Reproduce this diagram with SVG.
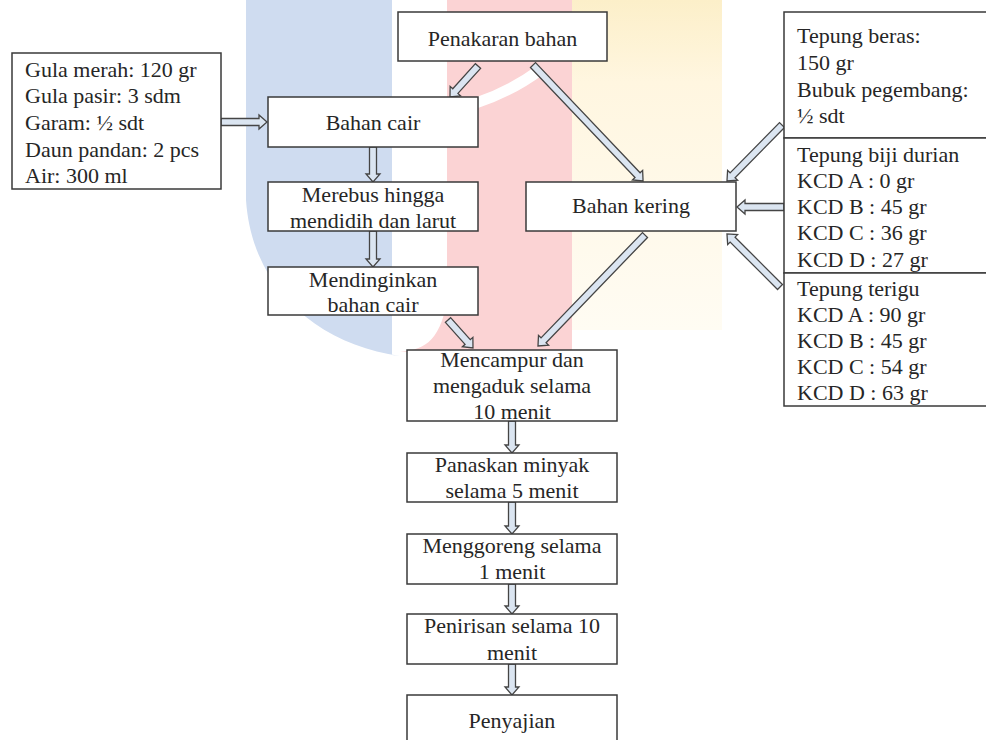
<svg xmlns="http://www.w3.org/2000/svg" width="986" height="740" viewBox="0 0 986 740">
<style>
.box{fill:#fff;stroke:#3a3a3a;stroke-width:1.5}
.t{font-family:"Liberation Serif","Times New Roman",serif;font-size:22px;fill:#262626}
.c{text-anchor:middle}
.ar{fill:#dbe5f1;stroke:#454545;stroke-width:1.3;stroke-linejoin:miter}
</style>
<defs>
<linearGradient id="yel" x1="0" y1="0" x2="0" y2="1">
<stop offset="0" stop-color="#fcefc9"/>
<stop offset="0.25" stop-color="#fff6e0"/>
<stop offset="1" stop-color="#fffcf3"/>
</linearGradient>
</defs>
<rect width="986" height="740" fill="#fff"/>
<g id="watermark">
<path d="M246,0 H392 V355 L400,356 C320,345 252,290 246,200 Z" fill="#cfdcf0"/>
<path d="M447,0 H572 V352 H400 C420,350 440,345 447,300 Z" fill="#fbd3d4"/>
<path d="M440,112 C475,106 510,92 540,70" fill="none" stroke="#fff" stroke-width="11"/>
<path d="M572,0 H722 V330 H572 Z" fill="url(#yel)"/>
</g>
<g id="connectors">
<polygon class="ar" points="0,-3.5 38,-3.5 38,-7 46,0 38,7 38,3.5 0,3.5" transform="translate(221,122)"/>
<polygon class="ar" points="0,-3.5 33.8,-3.5 33.8,-7 41.8,0 33.8,7 33.8,3.5 0,3.5" transform="translate(478,66) rotate(132.1)"/>
<polygon class="ar" points="0,-3.5 151.9,-3.5 151.9,-7 159.9,0 151.9,7 151.9,3.5 0,3.5" transform="translate(533,65) rotate(46.5)"/>
<polygon class="ar" points="0,-3.5 27,-3.5 27,-7 35,0 27,7 27,3.5 0,3.5" transform="translate(373,147) rotate(90)"/>
<polygon class="ar" points="0,-3.5 28,-3.5 28,-7 36,0 28,7 28,3.5 0,3.5" transform="translate(373,231) rotate(90)"/>
<polygon class="ar" points="0,-3.5 29.5,-3.5 29.5,-7 37.5,0 29.5,7 29.5,3.5 0,3.5" transform="translate(448,320) rotate(48.2)"/>
<polygon class="ar" points="0,-3.5 146.2,-3.5 146.2,-7 154.2,0 146.2,7 146.2,3.5 0,3.5" transform="translate(645,235) rotate(133.95)"/>
<polygon class="ar" points="0,-3.5 70.5,-3.5 70.5,-7 78.5,0 70.5,7 70.5,3.5 0,3.5" transform="translate(782,125) rotate(134.5)"/>
<polygon class="ar" points="0,-3.5 39,-3.5 39,-7 47,0 39,7 39,3.5 0,3.5" transform="translate(784,207) rotate(180)"/>
<polygon class="ar" points="0,-3.5 67,-3.5 67,-7 75,0 67,7 67,3.5 0,3.5" transform="translate(780,287) rotate(-135)"/>
<polygon class="ar" points="0,-3.5 24,-3.5 24,-7 32,0 24,7 24,3.5 0,3.5" transform="translate(512,421) rotate(90)"/>
<polygon class="ar" points="0,-3.5 24,-3.5 24,-7 32,0 24,7 24,3.5 0,3.5" transform="translate(512,502) rotate(90)"/>
<polygon class="ar" points="0,-3.5 22,-3.5 22,-7 30,0 22,7 22,3.5 0,3.5" transform="translate(512,584) rotate(90)"/>
<polygon class="ar" points="0,-3.5 23,-3.5 23,-7 31,0 23,7 23,3.5 0,3.5" transform="translate(512,664) rotate(90)"/>
</g>
<g id="bahan-cair-list">
<rect class="box" x="12" y="53" width="209" height="136"/>
<text class="t" x="25" y="77">Gula merah: 120 gr</text>
<text class="t" x="25" y="103">Gula pasir: 3 sdm</text>
<text class="t" x="25" y="130">Garam: ½ sdt</text>
<text class="t" x="25" y="157">Daun pandan: 2 pcs</text>
<text class="t" x="25" y="183">Air: 300 ml</text>
</g>
<g id="penakaran">
<rect class="box" x="398" y="12" width="209" height="49"/>
<text class="t c" x="502.5" y="46">Penakaran bahan</text>
</g>
<g id="bahan-cair">
<rect class="box" x="268" y="97" width="210" height="50"/>
<text class="t c" x="373" y="130">Bahan cair</text>
</g>
<g id="merebus">
<rect class="box" x="268" y="182" width="210" height="49"/>
<text class="t c" x="373" y="202">Merebus hingga</text>
<text class="t c" x="373" y="228">mendidih dan larut</text>
</g>
<g id="mendinginkan">
<rect class="box" x="268" y="267" width="210" height="48"/>
<text class="t c" x="373" y="287">Mendinginkan</text>
<text class="t c" x="373" y="312">bahan cair</text>
</g>
<g id="bahan-kering">
<rect class="box" x="526" y="182" width="210" height="49"/>
<text class="t c" x="631" y="213">Bahan kering</text>
</g>
<g id="bahan-kering-list">
<rect class="box" x="784" y="12" width="210" height="126"/>
<rect class="box" x="784" y="138" width="210" height="135"/>
<rect class="box" x="784" y="273" width="210" height="133"/>
<text class="t" x="797" y="43">Tepung beras:</text>
<text class="t" x="797" y="70">150 gr</text>
<text class="t" x="797" y="97">Bubuk pegembang:</text>
<text class="t" x="797" y="123">½ sdt</text>
<text class="t" x="797" y="162">Tepung biji durian</text>
<text class="t" x="797" y="188">KCD A : 0 gr</text>
<text class="t" x="797" y="214">KCD B : 45 gr</text>
<text class="t" x="797" y="240">KCD C : 36 gr</text>
<text class="t" x="797" y="267">KCD D : 27 gr</text>
<text class="t" x="797" y="296">Tepung terigu</text>
<text class="t" x="797" y="322">KCD A : 90 gr</text>
<text class="t" x="797" y="348">KCD B : 45 gr</text>
<text class="t" x="797" y="374">KCD C : 54 gr</text>
<text class="t" x="797" y="400">KCD D : 63 gr</text>
</g>
<g id="mencampur">
<rect class="box" x="407" y="350" width="210" height="71"/>
<text class="t c" x="512" y="367">Mencampur dan</text>
<text class="t c" x="512" y="393">mengaduk selama</text>
<text class="t c" x="512" y="419">10 menit</text>
</g>
<g id="panaskan">
<rect class="box" x="407" y="453" width="210" height="49"/>
<text class="t c" x="512" y="472">Panaskan minyak</text>
<text class="t c" x="512" y="498">selama 5 menit</text>
</g>
<g id="menggoreng">
<rect class="box" x="407" y="534" width="210" height="50"/>
<text class="t c" x="512" y="553">Menggoreng selama</text>
<text class="t c" x="512" y="579">1 menit</text>
</g>
<g id="penirisan">
<rect class="box" x="407" y="614" width="210" height="50"/>
<text class="t c" x="512" y="633">Penirisan selama 10</text>
<text class="t c" x="512" y="660">menit</text>
</g>
<g id="penyajian">
<rect class="box" x="407" y="695" width="210" height="60"/>
<text class="t c" x="512" y="728">Penyajian</text>
</g>
</svg>
